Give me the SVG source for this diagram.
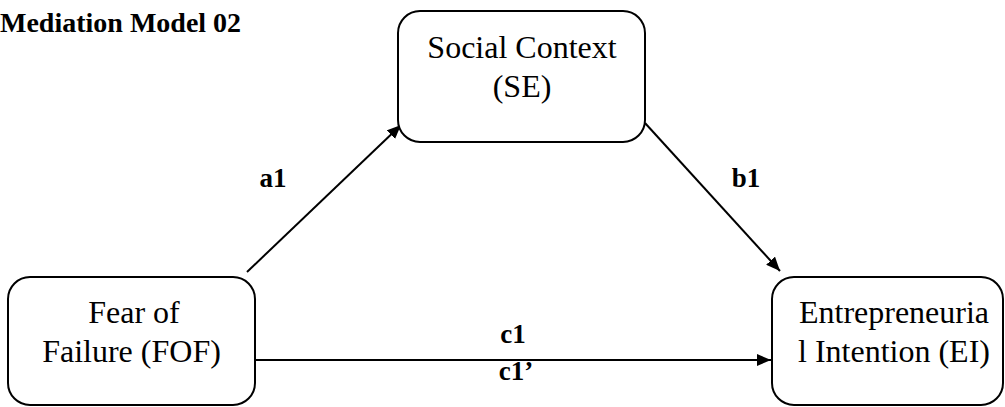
<svg xmlns="http://www.w3.org/2000/svg" width="1005" height="407" viewBox="0 0 1005 407">
<style>
.box{fill:#fff;stroke:#000;stroke-width:2}
.t{font-family:"Liberation Serif","Times New Roman",serif;font-size:32px;fill:#000;text-anchor:middle}
.lbl{font-family:"Liberation Serif","Times New Roman",serif;font-size:27px;font-weight:bold;fill:#000;text-anchor:middle}
.ln{stroke:#000;stroke-width:2;fill:none}
</style>
<defs>
<marker id="ah" markerUnits="userSpaceOnUse" markerWidth="16" markerHeight="12" refX="14" refY="6" orient="auto">
<path d="M0,0 L14,6 L0,12 z" fill="#000"/>
</marker>
</defs>
<rect width="1005" height="407" fill="#fff"/>
<text x="0" y="32" font-family="'Liberation Serif','Times New Roman',serif" font-size="28" font-weight="bold">Mediation Model 02</text>
<g id="connectors">
<line class="ln" x1="247" y1="272" x2="401" y2="125" marker-end="url(#ah)"/>
<line class="ln" x1="645" y1="123" x2="780" y2="271" marker-end="url(#ah)"/>
<line class="ln" x1="255" y1="360" x2="771" y2="360" marker-end="url(#ah)"/>
<text class="lbl" x="273" y="187">a1</text>
<text class="lbl" x="746" y="187">b1</text>
<text class="lbl" x="513" y="343">c1</text>
<text class="lbl" x="516" y="380">c1’</text>
</g>
<g id="social">
<rect class="box" x="398" y="11" width="247" height="131" rx="22"/>
<text class="t" x="522" y="58">Social Context</text>
<text class="t" x="522" y="97">(SE)</text>
</g>
<g id="fof">
<rect class="box" x="8" y="277" width="247" height="128" rx="22"/>
<text class="t" x="134" y="323">Fear of</text>
<text class="t" x="131.5" y="362">Failure (FOF)</text>
</g>
<g id="ei">
<rect class="box" x="772" y="277" width="231" height="128" rx="22"/>
<text class="t" x="894" y="323">Entrepreneuria</text>
<text class="t" x="894" y="362">l Intention (EI)</text>
</g>
</svg>
